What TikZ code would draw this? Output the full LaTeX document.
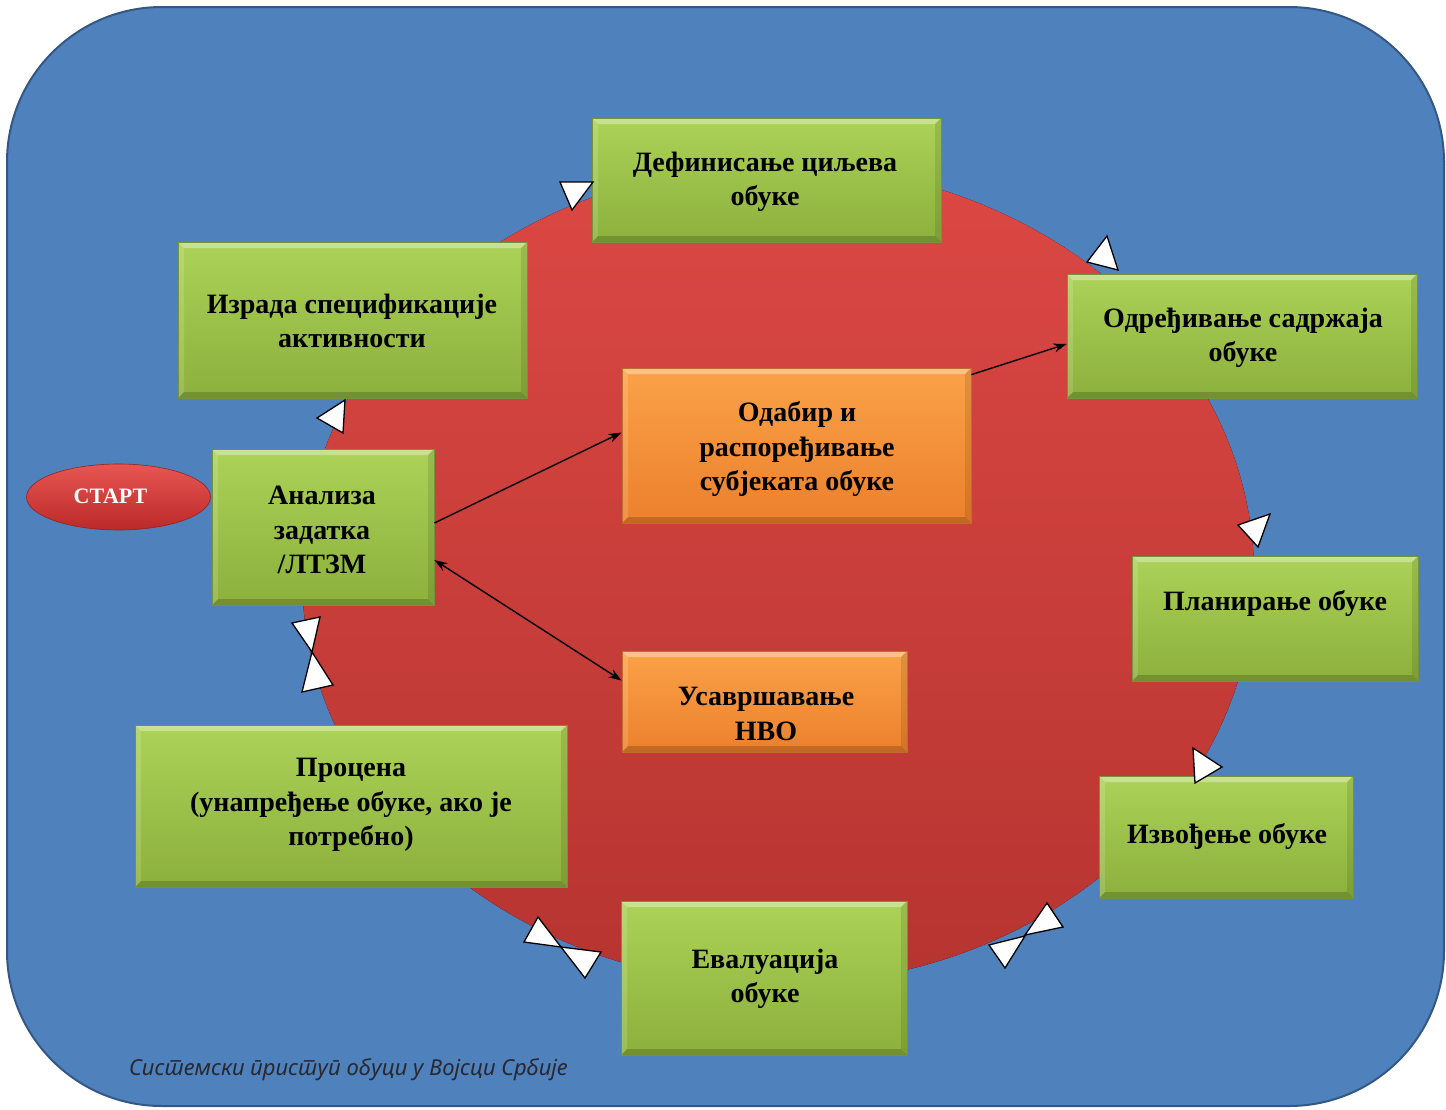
\documentclass[tikz,border=0pt]{standalone}
\usepackage{fontspec}
\setmainfont{Liberation Serif}
\newfontfamily\capfont[Script=Cyrillic,Language=Serbian]{Noto Sans}
\usetikzlibrary{arrows.meta,shapes.geometric}
\definecolor{bgblue}{RGB}{79,129,189}
\definecolor{bgedge}{RGB}{52,88,132}
\definecolor{redtop}{RGB}{220,72,68}
\definecolor{redbot}{RGB}{182,52,48}
\definecolor{gtop}{RGB}{172,210,88}
\definecolor{gbot}{RGB}{140,176,60}
\definecolor{gedge}{RGB}{118,146,60}
\definecolor{otop}{RGB}{250,162,72}
\definecolor{obot}{RGB}{236,128,44}
\definecolor{oedge}{RGB}{190,110,40}
\definecolor{stop}{RGB}{232,86,82}
\definecolor{sbot}{RGB}{186,42,40}
\definecolor{captxt}{RGB}{40,40,48}
\tikzset{
 bevel/.style={path picture={
   \fill[white,opacity=0.35] (path picture bounding box.north west) -- (path picture bounding box.north east) -- ([xshift=-6pt,yshift=-6pt]path picture bounding box.north east) -- ([xshift=6pt,yshift=-6pt]path picture bounding box.north west) -- cycle;
   \fill[white,opacity=0.15] (path picture bounding box.north west) -- ([xshift=6pt,yshift=-6pt]path picture bounding box.north west) -- ([xshift=6pt,yshift=6pt]path picture bounding box.south west) -- (path picture bounding box.south west) -- cycle;
   \fill[black,opacity=0.10] (path picture bounding box.north east) -- ([xshift=-6pt,yshift=-6pt]path picture bounding box.north east) -- ([xshift=-6pt,yshift=6pt]path picture bounding box.south east) -- (path picture bounding box.south east) -- cycle;
   \fill[black,opacity=0.18] (path picture bounding box.south west) -- ([xshift=6pt,yshift=6pt]path picture bounding box.south west) -- ([xshift=-6pt,yshift=6pt]path picture bounding box.south east) -- (path picture bounding box.south east) -- cycle;
 }},
 gbox/.style={rectangle, draw=gedge, line width=0.8pt, top color=gtop, bottom color=gbot, bevel, inner sep=0pt},
 obox/.style={rectangle, draw=oedge, line width=0.8pt, top color=otop, bottom color=obot, bevel, inner sep=0pt},
 lbl/.style={align=center, font=\fontsize{28}{34.5}\selectfont\bfseries, text=black, inner sep=0pt},
 tri/.style={fill=white, draw=black, line width=1.3pt, line join=miter},
 conn/.style={draw=black, line width=1.4pt, -{Stealth[length=13pt,width=9pt]}},
 dconn/.style={draw=black, line width=1.4pt, {Stealth[length=13pt,width=9pt]}-{Stealth[length=13pt,width=9pt]}},
}
\begin{document}
\begin{tikzpicture}[x=1pt,y=-1pt]
\useasboundingbox (0,0) rectangle (1446,1109);
% background
\draw[fill=bgblue, draw=bgedge, line width=2pt, rounded corners=155pt] (7,7) rectangle (1444,1106);
% red disc
\fill[top color=redtop, bottom color=redbot] (778,575) ellipse [x radius=476pt, y radius=410pt];

% boxes
\node[gbox, minimum width=349pt, minimum height=124pt] (def) at (766.5,180) {};
\node[gbox, minimum width=349pt, minimum height=156pt] (izr) at (352.5,320) {};
\node[gbox, minimum width=350pt, minimum height=124pt] (odr) at (1242,336) {};
\node[gbox, minimum width=286pt, minimum height=125pt] (pla) at (1275,618.5) {};
\node[gbox, minimum width=254pt, minimum height=122pt] (izv) at (1226,837) {};
\node[gbox, minimum width=286pt, minimum height=154pt] (eva) at (764,978) {};
\node[gbox, minimum width=432pt, minimum height=162pt] (pro) at (351,806) {};
\node[gbox, minimum width=222pt, minimum height=156pt] (ana) at (323,527) {};
\node[obox, minimum width=349pt, minimum height=155pt] (oda) at (796.5,445.5) {};
\node[obox, minimum width=285pt, minimum height=101pt] (usa) at (764.5,701.5) {};

% texts
\node[lbl] (def-t) at (765,182) {Дефинисање циљева\\обуке};
\node[lbl] (izr-t) at (352,321) {Израда спецификације\\активности};
\node[lbl] (odr-t) at (1243,338) {Одређивање садржаја\\обуке};
\node[lbl] (pla-t) at (1275,603) {Планирање обуке};
\node[lbl] (izv-t) at (1227,836) {Извођење обуке};
\node[lbl] (eva-t) at (765,979) {Евалуација\\обуке};
\node[lbl] (pro-t) at (351,805) {Процена\\(унапређење обуке, ако је\\потребно)};
\node[lbl] (ana-t) at (322,530) {Анализа\\задатка\\/ЛТЗМ};
\node[lbl] (oda-t) at (797,449) {Одабир и\\распоређивање\\субјеката обуке};
\node[lbl] (usa-t) at (766,714) {Усавршавање\\НВО};

% start
\node[ellipse, draw=sbot!80!black, line width=0.6pt, top color=stop, bottom color=sbot, minimum width=184pt, minimum height=66pt, inner sep=0pt] (start) at (118.5,497) {};
\node[font=\fontsize{22}{26}\selectfont\bfseries, text=white, inner sep=0pt] (start-t) at (110.5,496) {СТАРТ};

% connectors
\draw[conn] ([yshift=4pt]ana.east) -- ([yshift=13pt]oda.west);
\draw[conn] ([yshift=-7pt]oda.north east) -- ([yshift=-8pt]odr.west);
\draw[dconn] ([yshift=-33pt]ana.east) -- ([yshift=21pt]usa.west);

% cycle arrowheads
\path[tri] (560,182) -- (593,182) -- (572,210) -- cycle;
\path[tri] (1107,236) -- (1087,262) -- (1118,270) -- cycle;
\path[tri] (1238,525) -- (1270,514) -- (1258,547) -- cycle;
\path[tri] (1193,748) -- (1222,767) -- (1195,783) -- cycle;
\path[tri] (1047,903) -- (1063,927) -- (1025,935) -- cycle;
\path[tri] (989,945) -- (1025,936) -- (1005,968) -- cycle;
\path[tri] (538,917) -- (524,942) -- (561,947) -- cycle;
\path[tri] (561,947) -- (601,952) -- (585,978) -- cycle;
\path[tri] (292,623) -- (320,617) -- (312,652) -- cycle;
\path[tri] (312,652) -- (302,692) -- (333,685) -- cycle;
\path[tri] (317,418) -- (345,400) -- (343,433) -- cycle;

% caption
\node[anchor=west, inner sep=0pt, text=captxt, font=\capfont\itshape\fontsize{22}{26}\selectfont] (cap) at (129,1070) {Системски приступ обуци у Војсци Србије};
\end{tikzpicture}
\end{document}
